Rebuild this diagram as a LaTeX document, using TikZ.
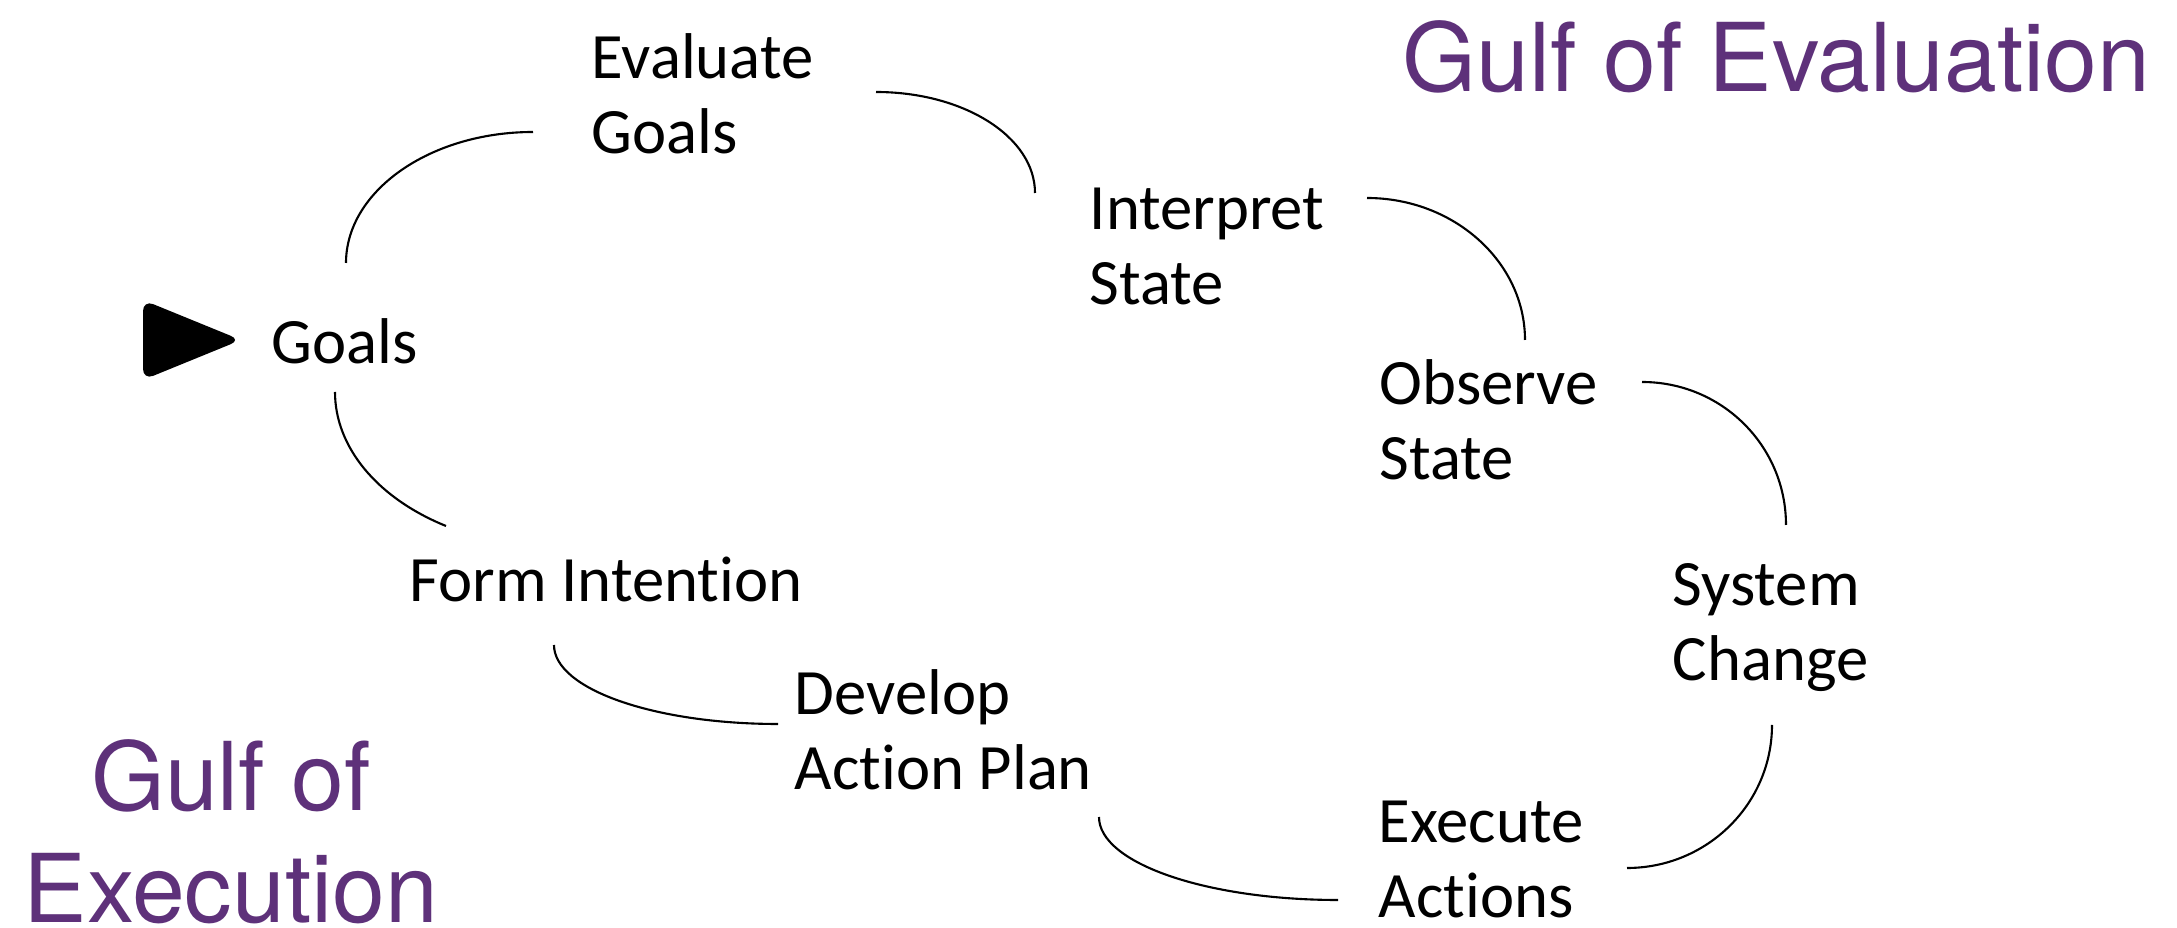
\documentclass[tikz,border=0pt]{standalone}
\usepackage{fontspec}
\setmainfont{Carlito}[Ligatures=NoCommon]
\newfontfamily\gulffont{TeX Gyre Heros}
\usepackage{xcolor}
\usepackage{tikz}
\usetikzlibrary{positioning}
\definecolor{gulfpurple}{RGB}{94,49,122}
\tikzset{
  stagenode/.style = {align=left, inner sep=0pt, anchor=base west,
    font=\fontsize{18.4}{21.6}\selectfont},% etape du cycle (base = derniere ligne)
  gulfnode/.style = {inner sep=0pt, text=gulfpurple,
    font=\gulffont\fontsize{27}{32.1}\selectfont},% gouffre
  cyc_l/.style = {line width=0.6pt}% arc entre deux etapes
}
\begin{document}
\begin{tikzpicture}[x=0.01cm,y=-0.01cm]
\useasboundingbox (0,0) rectangle (2177,928);
% etapes
\node [stagenode] (goals)     at (271,364) {Goals};
\node [stagenode] (evalgoals) at (591,154) {Evaluate\\Goals};
\node [stagenode] (interp)    at (1089,305) {Interpret\\State};
\node [stagenode] (observe)   at (1379,480) {Observe\\State};
\node [stagenode] (syschange) at (1672,681) {System\\Change};
\node [stagenode] (execute)   at (1378,918) {Execute\\Actions};
\node [stagenode] (develop)   at (794,790) {Develop\\Action Plan};
\node [stagenode] (intention) at (409,602) {Form Intention};
% gouffres
\node [gulfnode, anchor=base west] (evalgulf) at (1402,92) {Gulf of Evaluation};
\node [gulfnode, anchor=base, align=center] (execgulf) at (231,923) {Gulf of\\Execution};
% depart
\fill [rounded corners=1.1mm] (143,300) -- (241,340) -- (143,380) -- cycle;
% extremites des arcs
\coordinate (a1) at (346,263);  \coordinate (b1) at (533,132);
\coordinate (a2) at (876,92);   \coordinate (b2) at (1035,193);
\coordinate (a3) at (1367,198); \coordinate (b3) at (1525,340);
\coordinate (a4) at (1642,382); \coordinate (b4) at (1786,525);
\coordinate (a5) at (1772,725); \coordinate (b5) at (1627,868);
\coordinate (a6) at (1099,817); \coordinate (b6) at (1338,900);
\coordinate (a7) at (554,645);  \coordinate (b7) at (778,724);
\coordinate (a8) at (335,392);  \coordinate (b8) at (446,526);
% arcs du cycle
\draw [cyc_l] (a1) .. controls +(0,-72) and +(-103,0) .. (b1);
\draw [cyc_l] (a2) .. controls +(88,0) and +(0,-56) .. (b2);
\draw [cyc_l] (a3) .. controls +(87,0) and +(0,-78) .. (b3);
\draw [cyc_l] (a4) .. controls +(80,0) and +(0,-79) .. (b4);
\draw [cyc_l] (a5) .. controls +(0,79) and +(80,0) .. (b5);
\draw [cyc_l] (a6) .. controls +(0,46) and +(-132,0) .. (b6);
\draw [cyc_l] (a7) .. controls +(0,44) and +(-124,0) .. (b7);
\draw [cyc_l] (a8) .. controls +(0,55) and +(-69,-28) .. (b8);
\end{tikzpicture}
\end{document}
